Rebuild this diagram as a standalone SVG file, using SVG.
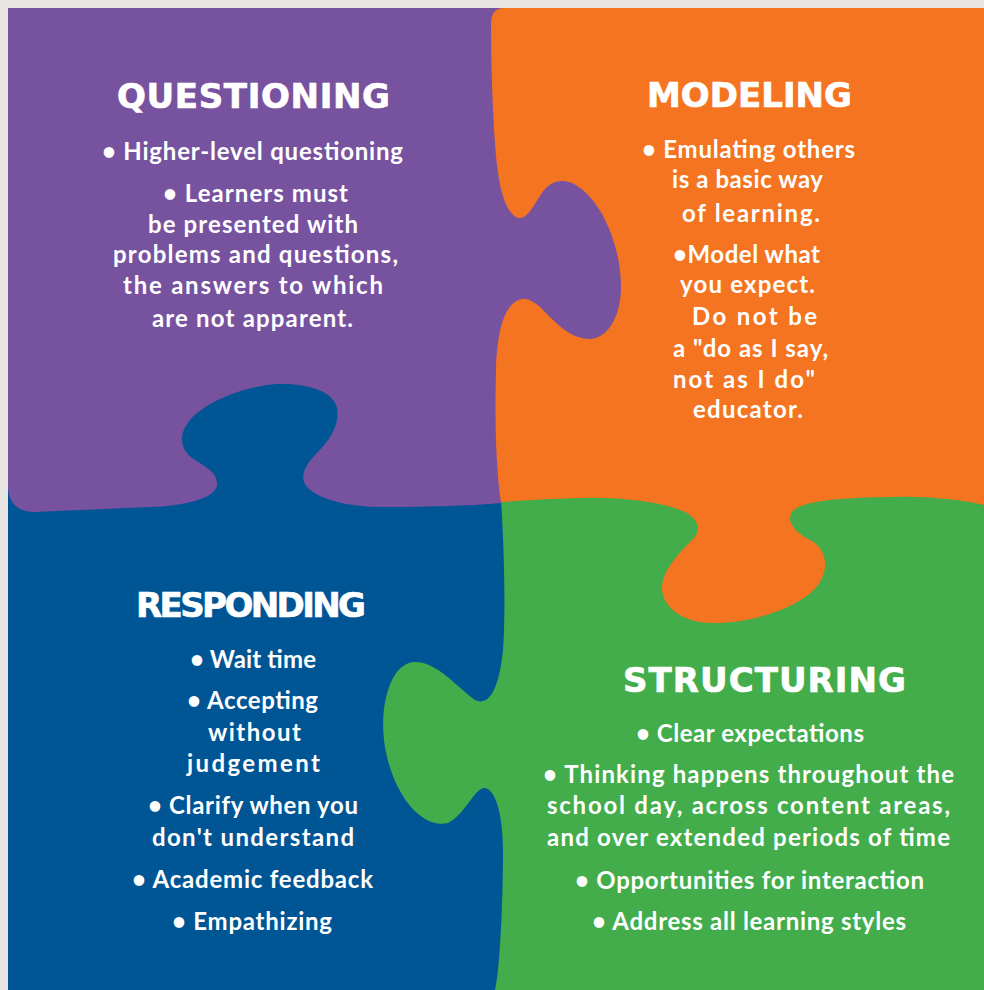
<svg xmlns="http://www.w3.org/2000/svg" width="984" height="990" viewBox="0 0 984 990">
<style>
.t { font-family: "DejaVu Sans", "Liberation Sans", sans-serif; font-weight: bold; font-size: 34px; fill: #ffffff; stroke: #ffffff; stroke-width: 0.7px; text-anchor: middle; }
.b { font-family: Lato, "Open Sans", sans-serif; font-weight: bold; font-size: 24px; fill: #ffffff; text-anchor: middle; }
</style>
<rect x="0" y="0" width="984" height="990" fill="#e8e5e2"/>
<g id="responding">
<rect x="8" y="370" width="520" height="620" fill="#005595"/>
</g>
<g id="structuring">
<path fill="#42ad4a" d="M 500,485 H 984 V 990 H 495 C 500,970 503,900 503,850 C 503,820 497,790 485,788 C 475,787 465,815 448,823 C 420,830 390,790 384,740 C 380,705 390,665 413,662 C 435,660 455,685 475,700 C 492,708 500,680 503,650 C 506,610 504,540 500,485 Z"/>
</g>
<g id="modeling">
<path fill="#f47421" d="M 485,8 H 984 V 505 C 960,499 920,496 897,497 C 850,497 800,500 792,512 C 786,522 795,532 810,540 C 825,548 830,565 820,582 C 808,603 760,623 713,623 C 680,623 662,605 662,588 C 662,570 680,552 695,537 C 700,530 700,517 680,510 C 660,502 620,497 580,498 C 540,499 510,501 485,504 Z"/>
</g>
<g id="questioning">
<path fill="#77529f" d="M 8,8 H 504 Q 491,8 491,24 C 491,80 494,140 497,165 C 500,190 505,212 518,218 C 530,220 537,196 547,187 C 555,180 567,178 580,188 C 605,206 621,250 621,287 C 621,320 605,339 590,339 C 570,339 555,322 543,310 C 535,302 528,298 522,299 C 505,302 497,330 496,370 C 495,410 495,460 501,503 C 470,506 420,507 383,507 C 350,507 320,500 308,488 C 298,478 305,465 317,453 C 330,440 340,425 337,408 C 333,390 305,383 277,384 C 245,386 205,402 190,420 C 178,435 180,448 192,458 C 205,467 218,472 217,485 C 215,500 180,506 150,507 L 35,512 Q 8,512 8,485 Z"/>
</g>
<g id="questioning-text">
<text class="t" x="253.5" y="108" textLength="273">QUESTIONING</text>
<text class="b" x="252.5" y="160" textLength="301">• Higher-level questioning</text>
<text class="b" x="255.5" y="202" textLength="185">• Learners must</text>
<text class="b" x="253" y="233" textLength="210">be presented with</text>
<text class="b" x="255.5" y="263" textLength="285">problems and questions,</text>
<text class="b" x="253" y="294" textLength="260">the answers to which</text>
<text class="b" x="252.5" y="327" textLength="201">are not apparent.</text>
</g>
<g id="modeling-text">
<text class="t" x="749.5" y="107" textLength="205">MODELING</text>
<text class="b" x="748.5" y="158" textLength="213">• Emulating others</text>
<text class="b" x="747.5" y="188" textLength="151">is a basic way</text>
<text class="b" x="751" y="222" textLength="138">of learning.</text>
<text class="b" x="746.5" y="263" textLength="147">•Model what</text>
<text class="b" x="747.5" y="293" textLength="135">you expect.</text>
<text class="b" x="754.5" y="325" textLength="125">Do not be</text>
<text class="b" x="750.5" y="357" textLength="155">a "do as I say,</text>
<text class="b" x="744" y="388" textLength="142">not as I do"</text>
<text class="b" x="748" y="418" textLength="110">educator.</text>
</g>
<g id="responding-text">
<text class="t" x="251" y="617" textLength="230">RESPONDING</text>
<text class="b" x="253" y="668" textLength="126">• Wait time</text>
<text class="b" x="252.5" y="709" textLength="131">• Accepting</text>
<text class="b" x="254.5" y="741" textLength="93">without</text>
<text class="b" x="253.5" y="772" textLength="133">judgement</text>
<text class="b" x="253" y="814" textLength="210">• Clarify when you</text>
<text class="b" x="253" y="846" textLength="202">don't understand</text>
<text class="b" x="252.5" y="888" textLength="241">• Academic feedback</text>
<text class="b" x="252" y="930" textLength="160">• Empathizing</text>
</g>
<g id="structuring-text">
<text class="t" x="764.5" y="692" textLength="283">STRUCTURING</text>
<text class="b" x="750" y="742" textLength="228">• Clear expectations</text>
<text class="b" x="748.5" y="783" textLength="411">• Thinking happens throughout the</text>
<text class="b" x="748.5" y="814" textLength="403">school day, across content areas,</text>
<text class="b" x="748.5" y="846" textLength="403">and over extended periods of time</text>
<text class="b" x="749.5" y="889" textLength="349">• Opportunities for interaction</text>
<text class="b" x="749" y="930" textLength="314">• Address all learning styles</text>
</g>
<g id="connectors"></g>
</svg>
